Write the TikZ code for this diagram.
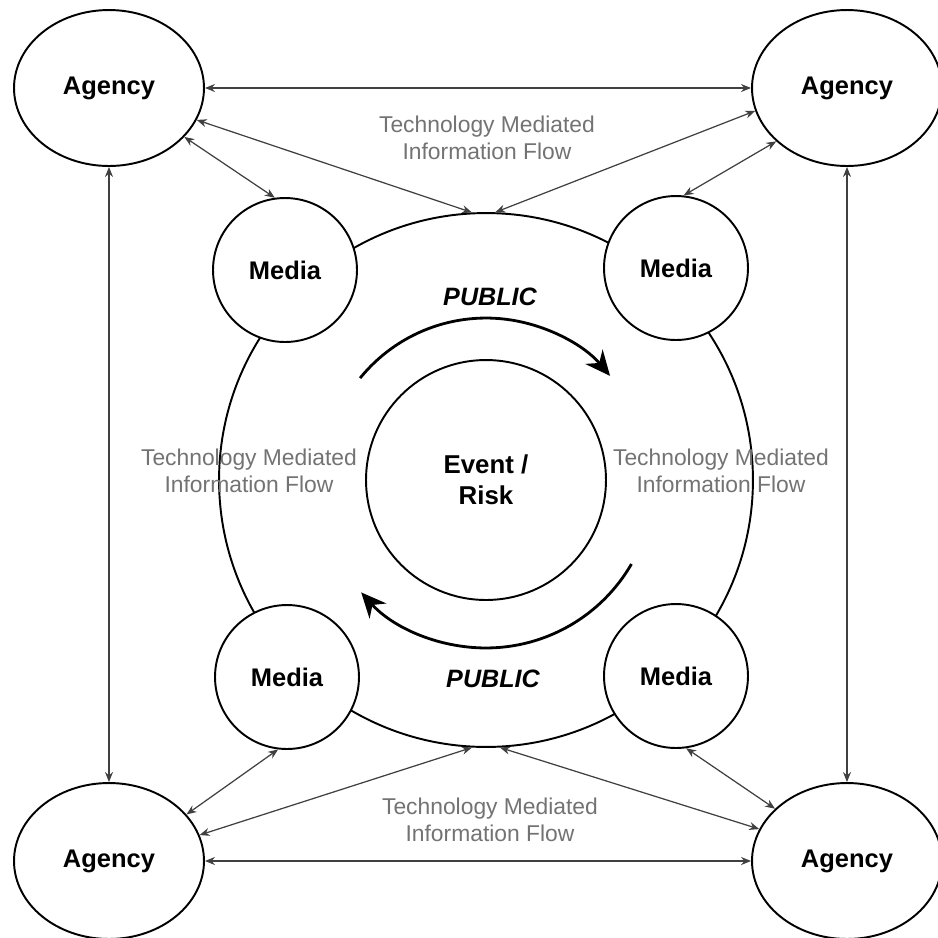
\documentclass[tikz,border=0pt]{standalone}
\usepackage{fontspec}
\setmainfont{Liberation Sans}
\usetikzlibrary{shapes.geometric, arrows.meta, calc}
\tikzset{
  agency/.style={ellipse, draw, line width=1.1pt, fill=white,
                 minimum width=3.8cm, minimum height=3.12cm,
                 font=\fontsize{14.5}{17}\selectfont\bfseries},
  media/.style={circle, draw, line width=1.1pt, fill=white,
                minimum size=2.88cm,
                font=\fontsize{14.5}{17}\selectfont\bfseries},
  ring/.style={circle, draw, line width=1.1pt, inner sep=0pt, align=center,
               font=\fontsize{14.7}{17.6}\selectfont\bfseries},
  flow/.style={align=center, text=black!55,
               font=\fontsize{13}{15.5}\selectfont},
  publbl/.style={font=\fontsize{14.3}{17}\selectfont\bfseries\itshape},
  biarr/.style={{Stealth[length=2mm,width=1.6mm]}-{Stealth[length=2mm,width=1.6mm]},
                line width=0.7pt, draw=black!75},
  cyc/.style={-{Stealth[length=5mm,width=4.5mm]}, line width=1.6pt},
}
\begin{document}
\begin{tikzpicture}[x=0.02cm, y=-0.02cm]
  \useasboundingbox[fill=white] (0,0) rectangle (938,938);
  \node[ring, minimum size=10.68cm] (public) at (486,480) {};
  \node[ring, minimum size=4.8cm] (ev) at (486,480) {Event /\\Risk};

  \node[agency] (ag1) at (109,88) {Agency};
  \node[agency] (ag2) at (847,88) {Agency};
  \node[agency] (ag3) at (109,861) {Agency};
  \node[agency] (ag4) at (847,861) {Agency};

  \node[media] (md1) at (285,270) {Media};
  \node[media] (md2) at (676,268) {Media};
  \node[media] (md3) at (287,677) {Media};
  \node[media] (md4) at (676,676) {Media};

  \node[publbl] (pub1) at (490,297) {PUBLIC};
  \node[publbl] (pub2) at (493,679) {PUBLIC};

  \node[flow] (fl1) at (487,138) {Technology Mediated\\Information Flow};
  \node[flow] (fl2) at (249,471) {Technology Mediated\\Information Flow};
  \node[flow] (fl3) at (721,471) {Technology Mediated\\Information Flow};
  \node[flow] (fl4) at (490,820) {Technology Mediated\\Information Flow};

  \draw[cyc] ($(ev.center)+(141:3.24cm)$) arc[start angle=141, end angle=40, radius=3.24cm];
  \draw[cyc] ($(ev.center)+(-30:3.36cm)$) arc[start angle=-30, end angle=-138, radius=3.36cm];

  \draw[biarr] (ag1.east) -- (ag2.west);
  \draw[biarr] (ag3.east) -- (ag4.west);
  \draw[biarr] (ag1.south) -- (ag3.north);
  \draw[biarr] (ag2.south) -- (ag4.north);

  \draw[biarr] (ag1.327) -- (md1.98);
  \draw[biarr] (ag1.340) -- (public.93);
  \draw[biarr] (ag2.217) -- (md2.84);
  \draw[biarr] (ag2.194) -- (public.88);
  \draw[biarr] (ag3.31) -- (md3.263);
  \draw[biarr] (ag3.16) -- (public.267);
  \draw[biarr] (ag4.144) -- (md4.278);
  \draw[biarr] (ag4.160) -- (public.273);
\end{tikzpicture}
\end{document}
